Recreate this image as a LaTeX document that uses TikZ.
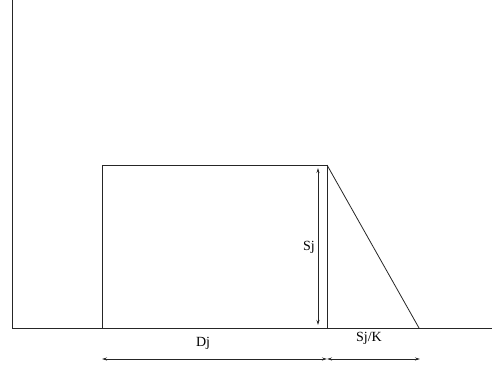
\documentclass[tikz,border=0pt]{standalone}
\usepackage{fontspec}
\setmainfont{Liberation Serif}
\usetikzlibrary{arrows.meta}
\begin{document}
\begin{tikzpicture}[x=1pt,y=-1pt,
  ln/.style={line width=0.8pt,draw=black!85},
  dim/.style={line width=0.8pt,draw=black!85,{Stealth[length=5pt,width=3pt]}-{Stealth[length=5pt,width=3pt]}},
  lbl/.style={font=\fontsize{14}{16}\selectfont,inner sep=0pt}]
\useasboundingbox (0,0) rectangle (492,369);
\coordinate (ytop) at (12,0);
\coordinate (o) at (12,328);
\coordinate (xend) at (492,328);
\coordinate (rbl) at (102,328);
\coordinate (rtl) at (102,165);
\coordinate (rtr) at (327,165);
\coordinate (rbr) at (327,328);
\coordinate (tri) at (419,328);
\draw[ln] (ytop) -- (o) -- (xend);
\draw[ln] (rbl) -- (rtl) -- (rtr) -- (rbr);
\draw[ln] (rtr) -- (tri);
\coordinate (sjt) at (318,168);
\coordinate (sjb) at (318,325);
\draw[dim] (sjt) -- (sjb);
\node[lbl] (sj) at (309,247) {Sj};
\coordinate (dl) at (102,359);
\coordinate (dm) at (327,359);
\coordinate (dr) at (420,359);
\draw[dim] (dl) -- (dm);
\draw[dim] (dm) -- (dr);
\node[lbl] (dj) at (203,343) {Dj};
\node[lbl] (sjk) at (369,338) {Sj/K};
\end{tikzpicture}
\end{document}
